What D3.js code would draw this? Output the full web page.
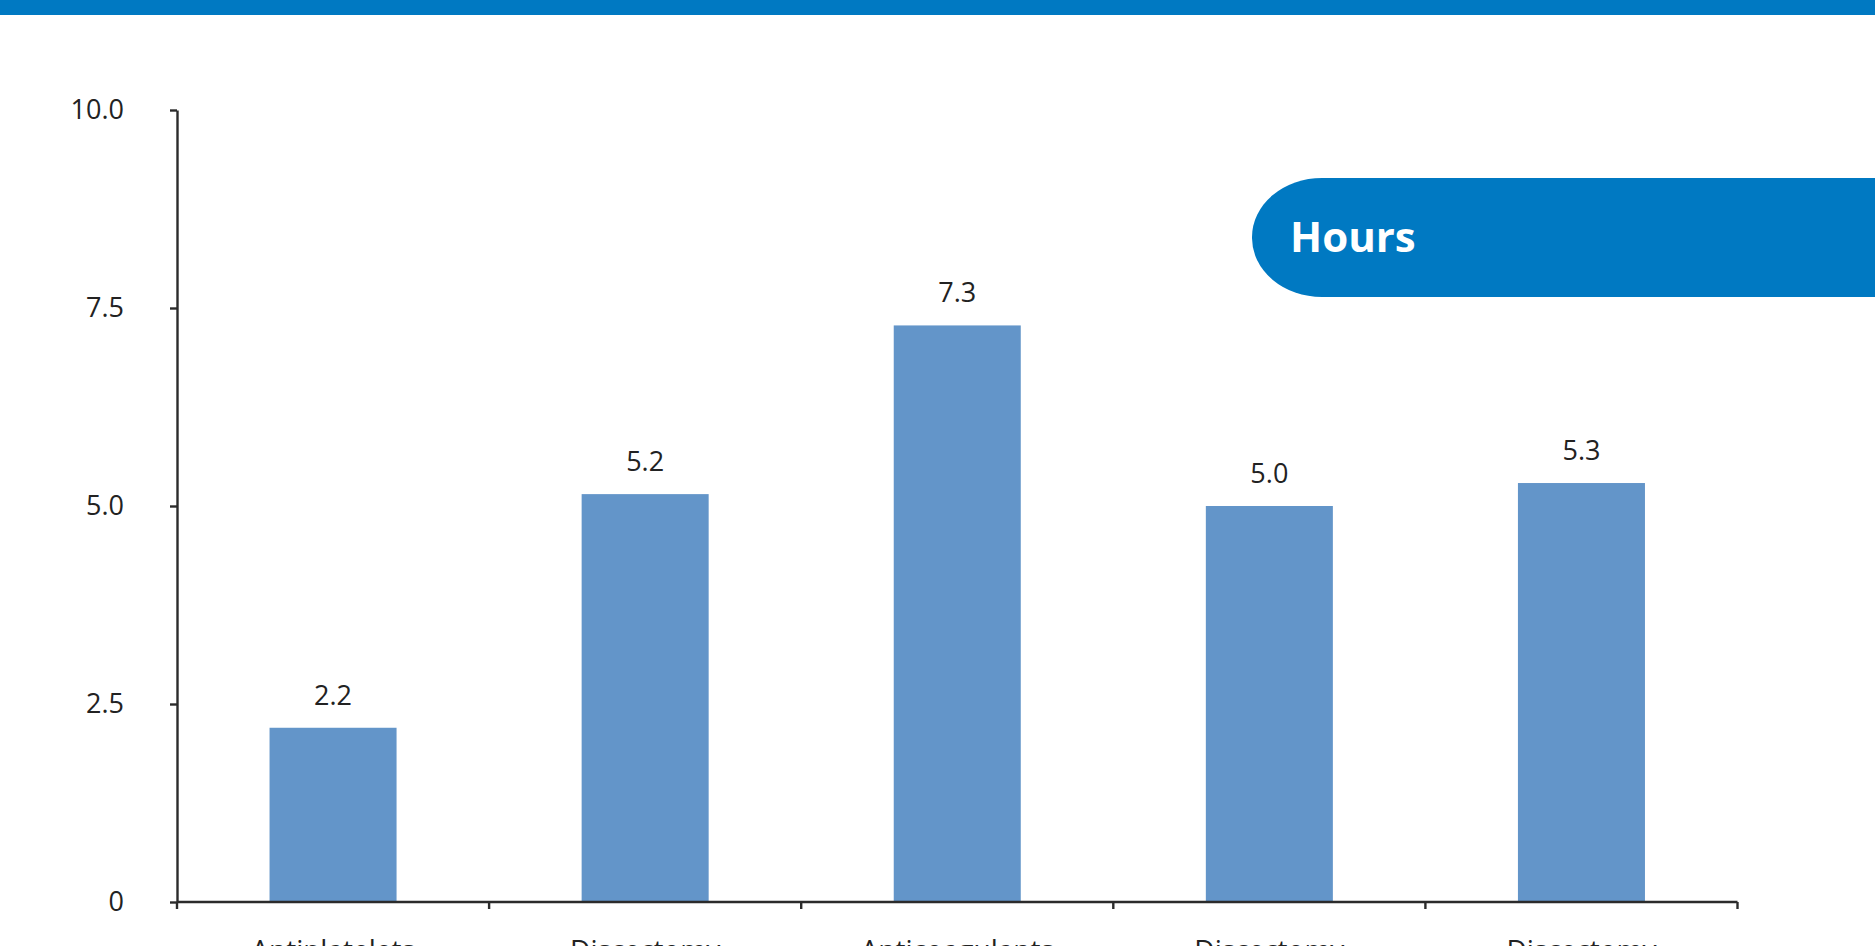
<!DOCTYPE html>
<html>
<head>
<meta charset="utf-8">
<script src="https://cdn.jsdelivr.net/npm/d3@7"></script>
<style>
  html, body { margin: 0; padding: 0; background: #fff; overflow: hidden; }
  svg { display: block; font-family: "Open Sans", "Noto Sans", sans-serif; }
  .axis path, .axis line { stroke: #2b2b2b; stroke-width: 2.4; }
  .axis text { fill: #222; font-size: 27px; font-family: "Open Sans", "Noto Sans", sans-serif; }
</style>
</head>
<body>
<div id="chart"></div>
<script>
// Hours per category, bar chart with a "Hours" badge.
const categories = ['Antiplatelets', 'Discectomy', 'Anticoagulants', 'Discectomy ', 'Discectomy  '];
const hours = [2.2, 5.15, 7.28, 5.0, 5.29];
const yTicks = [0, 2.5, 5, 7.5, 10];
const yTickLabels = ['0', '2.5', '5.0', '7.5', '10.0'];

const COLORS = {
  brand: '#0079C2',
  bar: '#6395C9',
  axis: '#2b2b2b',
  text: '#222'
};

const width = 1875, height = 946;
const margin = { top: 110, right: 137.5, bottom: 44, left: 177 };
const innerW = width - margin.left - margin.right;
const innerH = height - margin.top - margin.bottom;

const svg = d3.select('#chart').append('svg')
  .attr('width', width).attr('height', height);

// top brand strip
svg.append('rect')
  .attr('x', 0).attr('y', 0)
  .attr('width', width).attr('height', 15)
  .attr('fill', COLORS.brand);

const g = svg.append('g').attr('transform', `translate(${margin.left},${margin.top})`);

const x = d3.scaleBand().domain(categories).range([0, innerW]).padding(0);
const y = d3.scaleLinear().domain([0, 10]).range([innerH, 0]);

const barFrac = 0.407;

g.selectAll('rect.bar')
  .data(hours)
  .join('rect')
    .attr('class', 'bar')
    .attr('x', (d, i) => x(categories[i]) + x.bandwidth() * (1 - barFrac) / 2)
    .attr('y', d => y(d))
    .attr('width', x.bandwidth() * barFrac)
    .attr('height', d => y(0) - y(d))
    .attr('fill', COLORS.bar);

// value labels
g.selectAll('text.val')
  .data(hours)
  .join('text')
    .attr('class', 'val')
    .attr('x', (d, i) => x(categories[i]) + x.bandwidth() / 2)
    .attr('y', d => y(d) - 23)
    .attr('text-anchor', 'middle')
    .attr('fill', COLORS.text)
    .style('font-size', '27px')
    .text(d => d3.format('.1f')(d));

// y axis
const yAxis = d3.axisLeft(y)
  .tickValues(yTicks)
  .tickFormat((d, i) => yTickLabels[i])
  .tickSizeInner(7).tickSizeOuter(0).tickPadding(46);
g.append('g').attr('class', 'axis').call(yAxis);

// x axis: ticks sit between categories (Excel style)
const xAxisG = g.append('g').attr('class', 'axis').attr('transform', `translate(0,${innerH})`);
xAxisG.append('line')
  .attr('x1', 0).attr('x2', innerW);
const bounds = categories.map(c => x(c)).concat([innerW]);
xAxisG.selectAll('line.tk')
  .data(bounds)
  .join('line')
    .attr('class', 'tk')
    .attr('x1', d => d).attr('x2', d => d)
    .attr('y1', 0).attr('y2', 7);
xAxisG.selectAll('text.cat')
  .data(categories)
  .join('text')
    .attr('class', 'cat')
    .attr('x', d => x(d) + x.bandwidth() / 2)
    .attr('y', 58)
    .attr('text-anchor', 'middle')
    .style('font-size', '28px')
    .text(d => d.trim());

// "Hours" badge, running off the right edge
const badge = svg.append('g');
badge.append('rect')
  .attr('x', 1252).attr('y', 178)
  .attr('width', 720).attr('height', 119)
  .attr('rx', 70).attr('ry', 59)
  .attr('fill', COLORS.brand);
badge.append('text')
  .attr('x', 1290).attr('y', 252)
  .attr('fill', '#fff')
  .style('font-size', '42px')
  .style('font-weight', 700)
  .text('Hours');
</script>
</body>
</html>
